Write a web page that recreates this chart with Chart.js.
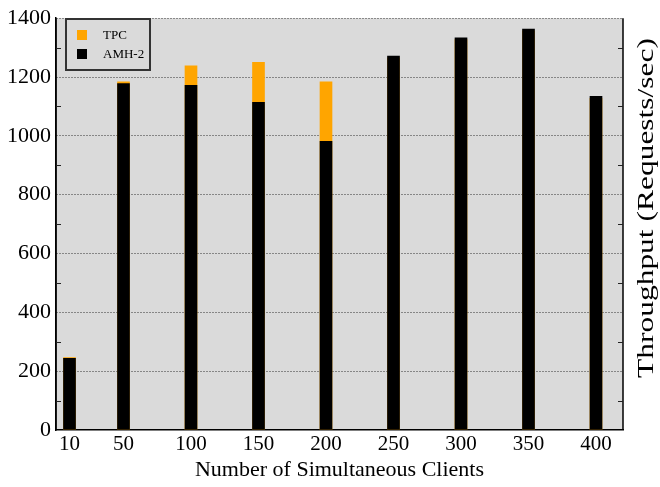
<!DOCTYPE html>
<html>
<head>
<meta charset="utf-8">
<script src="https://cdn.jsdelivr.net/npm/chart.js@4/dist/chart.umd.min.js"></script>
<style>
  html, body { margin: 0; padding: 0; background: #fff; }
  #wrap { width: 660px; height: 487px; }
</style>
</head>
<body>
<div id="wrap"><canvas id="throughputChart" width="660" height="487"></canvas></div>
<script>
// data
var clients = [10, 50, 100, 150, 200, 250, 300, 350, 400];
var tpc  = [246, 1184, 1238, 1250, 1184, 1265, 1327, 1357, 1128];
var amh2 = [244, 1178, 1172, 1114, 981, 1271, 1333, 1363, 1134];
var yTicks = [0, 200, 400, 600, 800, 1000, 1200, 1400];
var xTitle = 'Number of Simultaneous Clients';
var yTitle = 'Throughput (Requests/sec)';

var SERIF = '"Liberation Serif", "Times New Roman", serif';
var PLOT_BG = '#dadada';

function points(vals) {
  return clients.map(function (c, i) { return { x: c, y: vals[i] }; });
}

// gray plot area, right frame, little inward ticks at the 100s, legend box, right title
var frame = {
  id: 'frame',
  beforeDraw: function (chart) {
    var a = chart.chartArea, c = chart.ctx;
    c.save();
    c.fillStyle = PLOT_BG;
    c.fillRect(a.left, a.top, a.right - a.left, a.bottom - a.top);
    c.restore();
  },
  afterDraw: function (chart) {
    var a = chart.chartArea, c = chart.ctx, y = chart.scales.y;
    c.save();
    c.strokeStyle = '#000';
    c.lineWidth = 1.5;
    c.beginPath();
    c.moveTo(a.left, a.top);
    c.lineTo(a.left, a.bottom);
    c.moveTo(a.right, a.top);
    c.lineTo(a.right, a.bottom);
    c.stroke();
    c.lineWidth = 1;
    c.strokeStyle = '#222';
    for (var v = 100; v < 1400; v += 200) {
      var py = Math.round(y.getPixelForValue(v)) + 0.5;
      c.beginPath();
      c.moveTo(a.left, py); c.lineTo(a.left + 5, py);
      c.moveTo(a.right, py); c.lineTo(a.right - 5, py);
      c.stroke();
    }

    // boxed legend in the top-left corner
    var lx = 66, ly = 19, lw = 84, lh = 51;
    c.fillStyle = PLOT_BG;
    c.fillRect(lx, ly, lw, lh);
    c.strokeStyle = '#333';
    c.lineWidth = 2;
    c.strokeRect(lx, ly, lw, lh);
    var items = [chart.data.datasets[1], chart.data.datasets[0]];
    c.font = '13px ' + SERIF;
    c.textBaseline = 'middle';
    items.forEach(function (ds, i) {
      var cy = 35 + i * 19;
      c.fillStyle = ds.backgroundColor;
      c.fillRect(77, cy - 5, 10, 10);
      c.fillStyle = '#000';
      c.fillText(ds.label, 103, cy + 1);
    });

    // vertical title on the right, reading bottom to top
    c.translate(647, 208);
    c.rotate(-Math.PI / 2);
    c.font = '23px ' + SERIF;
    var w = c.measureText(yTitle).width;
    c.scale(340 / w, 1);
    c.textAlign = 'center';
    c.textBaseline = 'middle';
    c.fillStyle = '#000';
    c.fillText(yTitle, 0, 0);
    c.restore();
  }
};

var ctx = document.getElementById('throughputChart').getContext('2d');
var myChart = new Chart(ctx, {
  type: 'bar',
  data: {
    datasets: [{
      label: 'AMH-2',
      data: points(amh2),
      backgroundColor: '#000000',
      order: 0
    }, {
      label: 'TPC',
      data: points(tpc),
      backgroundColor: '#ffa500',
      order: 1
    }]
  },
  options: {
    responsive: false,
    animation: false,
    layout: { padding: { top: 15, right: 37, left: 0, bottom: 0 } },
    datasets: { bar: { grouped: false, barThickness: 12 } },
    plugins: {
      legend: { display: false },
      tooltip: { enabled: false }
    },
    scales: {
      x: {
        type: 'linear',
        offset: false,
        min: 0,
        max: 420,
        afterBuildTicks: function (s) {
          s.ticks = clients.map(function (v) { return { value: v }; });
        },
        afterFit: function (s) { s.height = 57; },
        grid: { display: true, color: 'transparent', drawTicks: false, offset: false },
        border: { display: true, color: '#000', width: 1.5 },
        ticks: {
          autoSkip: false,
          maxRotation: 0,
          padding: 2,
          color: '#000',
          font: { family: SERIF, size: 21 },
          callback: function (v) { return String(v); }
        },
        title: {
          display: true,
          text: xTitle,
          color: '#000',
          font: { family: SERIF, size: 22 },
          padding: { top: 0, bottom: 4 }
        }
      },
      y: {
        min: 0,
        max: 1400,
        afterBuildTicks: function (s) {
          s.ticks = yTicks.map(function (v) { return { value: v }; });
        },
        afterFit: function (s) { s.width = 56; },
        grid: {
          color: function (c) {
            return c.tick && c.tick.value > 0 ? '#333' : 'transparent';
          },
          lineWidth: 1,
          drawTicks: false
        },
        // in v4 border.dash also sets the dash of the grid lines
        border: { display: true, color: '#000', width: 1.5, dash: [1, 2] },
        ticks: {
          autoSkip: false,
          padding: 5,
          color: '#000',
          font: { family: SERIF, size: 22 },
          callback: function (v) { return String(v); }
        }
      }
    }
  },
  plugins: [frame]
});
</script>
</body>
</html>
